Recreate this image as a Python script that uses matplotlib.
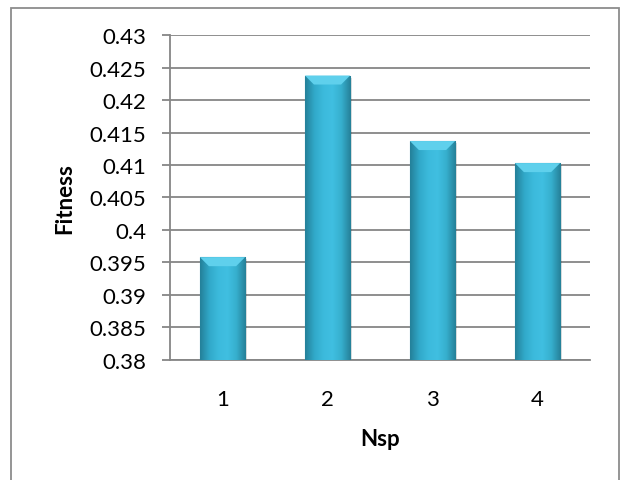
import numpy as np
import matplotlib
matplotlib.use("Agg")
import matplotlib.pyplot as plt
from matplotlib.patches import Rectangle, Polygon
from matplotlib.colors import LinearSegmentedColormap

categories = ["1", "2", "3", "4"]
fitness = [0.3958, 0.4238, 0.4137, 0.4103]
y_ticks = [0.38, 0.385, 0.39, 0.395, 0.4, 0.405, 0.41, 0.415, 0.42, 0.425, 0.43]
y_tick_labels = ["0.38", "0.385", "0.39", "0.395", "0.4", "0.405", "0.41",
                 "0.415", "0.42", "0.425", "0.43"]

plt.rcParams["font.family"] = ["Lato", "DejaVu Sans"]

W, H = 622, 481
fig = plt.figure(figsize=(W / 100, H / 100), dpi=100)
fig.patch.set_facecolor("white")

# outer chart frame (its bottom edge runs off the canvas)
frame = Rectangle((11 / W, -0.05), (619 - 11) / W, 1.05 - 9 / H,
                  transform=fig.transFigure, fill=False,
                  edgecolor="#8c8c8c", linewidth=1.3)
fig.add_artist(frame)

ax = fig.add_axes([170 / W, 1 - 360.7 / H, 420 / W, (360.7 - 36.3) / H])

x = np.arange(1, len(categories) + 1)
ymin, ymax = 0.38, 0.43
bar_w = 0.43

# horizontal shading across each bar: darker edges, lighter middle
cmap = LinearSegmentedColormap.from_list(
    "bar_shade", ["#24819a", "#31a9c9", "#3cbadc", "#40bfe1", "#36afcd", "#268199"])
grad = np.linspace(0, 1, 64).reshape(1, -1)

bars = ax.bar(x, np.array(fitness) - ymin, bottom=ymin, width=bar_w,
              color="none", edgecolor="#2a8aa4", linewidth=0.8, zorder=3)

px_y = (ymax - ymin) / (360.7 - 36.3)
px_x = 4.0 / 420
for b, v in zip(bars, fitness):
    x0 = b.get_x()
    w = b.get_width()
    # soft shadow to the right and below
    sh = Rectangle((x0 + 2 * px_x, ymin - 2 * px_y), w, v - ymin,
                   facecolor="#000000", alpha=0.12, edgecolor="none", zorder=2)
    ax.add_patch(sh)
    im = ax.imshow(grad, extent=[x0, x0 + w, ymin, v], aspect="auto",
                   cmap=cmap, zorder=3, interpolation="bicubic")
    im.set_clip_path(b)
    # bevelled top face
    bev_h = 9 * px_y
    bev_w = 9 * px_x
    top = Polygon([[x0, v], [x0 + w, v], [x0 + w - bev_w, v - bev_h],
                   [x0 + bev_w, v - bev_h]], closed=True,
                  facecolor="#5fd0ec", edgecolor="none", zorder=4)
    ax.add_patch(top)

ax.set_xlim(0.5, 4.5)
ax.set_ylim(ymin, ymax)
ax.set_xticks(x)
ax.set_xticklabels(categories)
ax.set_yticks(y_ticks)
ax.set_yticklabels(y_tick_labels)

ax.yaxis.grid(True, color="#868686", linewidth=1.3, zorder=0)
ax.set_axisbelow(True)
for side in ["top", "right"]:
    ax.spines[side].set_visible(False)
for side in ["left", "bottom"]:
    ax.spines[side].set_color("#868686")
    ax.spines[side].set_linewidth(1.3)

ax.tick_params(axis="y", direction="out", length=6, width=1.3, color="#868686",
               labelsize=16, pad=11)
ax.tick_params(axis="x", length=0, labelsize=16, pad=21)

ax.set_xlabel("Nsp", fontsize=16, fontweight="bold", labelpad=14)
ax.set_ylabel("Fitness", fontsize=16, fontweight="bold", labelpad=10)

fig.savefig("out.png", dpi=100, facecolor="white")
